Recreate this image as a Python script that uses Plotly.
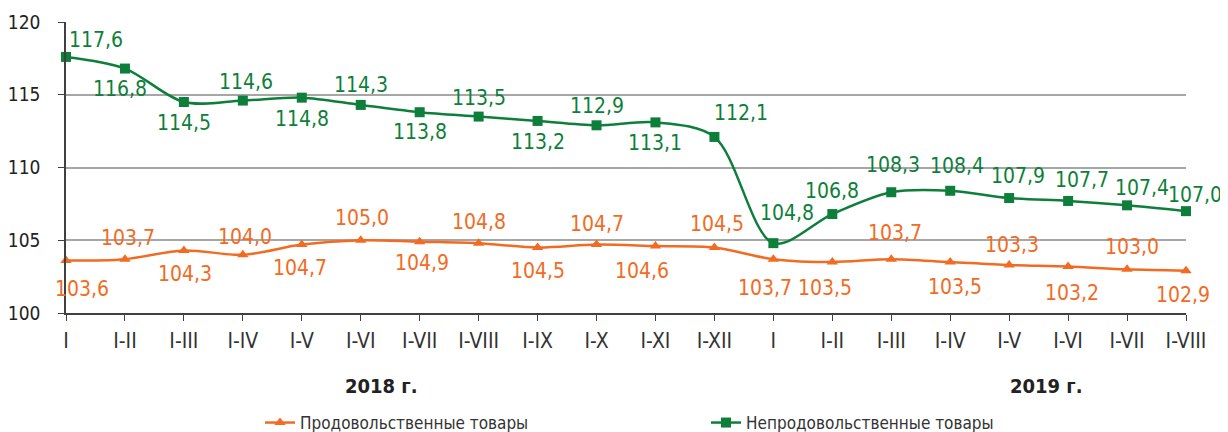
import plotly.graph_objects as go

categories = ["I", "I-II", "I-III", "I-IV", "I-V", "I-VI", "I-VII", "I-VIII", "I-IX", "I-X",
              "I-XI", "I-XII", "I ", "I-II ", "I-III ", "I-IV ", "I-V ", "I-VI ", "I-VII ", "I-VIII "]
food = [103.6, 103.7, 104.3, 104.0, 104.7, 105.0, 104.9, 104.8, 104.5, 104.7,
        104.6, 104.5, 103.7, 103.5, 103.7, 103.5, 103.3, 103.2, 103.0, 102.9]
nonfood = [117.6, 116.8, 114.5, 114.6, 114.8, 114.3, 113.8, 113.5, 113.2, 112.9,
           113.1, 112.1, 104.8, 106.8, 108.3, 108.4, 107.9, 107.7, 107.4, 107.0]
series_names = ["Продовольственные товары", "Непродовольственные товары"]
year_labels = ["2018 г.", "2019 г."]
y_ticks = [100, 105, 110, 115, 120]

# label offsets (pixels) - styling only
food_off = [(16, 28), (3, -21), (1, 24), (2, -18), (-2, 23), (1, -22), (2, 21), (0, -21), (0, 23), (0, -21),
            (-13, 25), (3, -24), (-8, 29), (-7, 26), (4, -26), (5, 25), (3, -20), (4, 27), (5, -22), (-3, 24)]
nonfood_off = [(30, -17), (-5, 20), (0, 21), (3, -19), (0, 21), (0, -20), (0, 20), (0, -19), (0, 21), (0, -19),
               (0, 21), (27, -24), (14, -30), (0, -23), (2, -27), (7, -25), (9, -22), (14, -21), (15, -17), (9, -16)]

ORANGE = "#F26B23"
GREEN = "#0E7F3A"
FONT = "Liberation Sans Narrow, Arial Narrow, DejaVu Sans Condensed, Roboto"

# page body has an 8px margin, so the figure is offset by (8, 8) in the window
OFF = 8
W, H = 1228 - OFF, 432 - OFF
PL, PR, PT, PB = 66, 1186, 22, 313  # plot area in window pixels
ml, mt = PL - OFF, PT - OFF
mr = W - (PR - OFF)
mb = H - (PB - OFF)
pw, ph = PR - PL, PB - PT


def px_to_paper(x, y):
    return (x - PL) / pw, (PB - y) / ph


xs = list(range(len(categories)))

fig = go.Figure()
fig.add_trace(go.Scatter(
    x=xs, y=food, name=series_names[0], mode="lines+markers",
    line=dict(color=ORANGE, width=2.5, shape="spline", smoothing=0.9),
    marker=dict(symbol="triangle-up", size=10, color=ORANGE),
    cliponaxis=False,
))
fig.add_trace(go.Scatter(
    x=xs, y=nonfood, name=series_names[1], mode="lines+markers",
    line=dict(color=GREEN, width=2.5, shape="spline", smoothing=0.9),
    marker=dict(symbol="square", size=10, color=GREEN),
    cliponaxis=False,
))

annotations = []
for vals, offs, col in [(food, food_off, ORANGE), (nonfood, nonfood_off, GREEN)]:
    for i, v in enumerate(vals):
        dx, dy = offs[i]
        annotations.append(dict(
            x=xs[i], y=v, xref="x", yref="y", text=f"{v:.1f}".replace(".", ","),
            showarrow=False, xshift=dx, yshift=-dy,
            font=dict(family=FONT, size=21, color=col),
        ))

for lbl, cx in zip(year_labels, [381, 1046]):
    px, py = px_to_paper(cx, 386)
    annotations.append(dict(x=px, y=py, xref="paper", yref="paper", xanchor="center", yanchor="middle",
                            text=f"<b>{lbl}</b>", showarrow=False,
                            font=dict(family=FONT, size=20, color="#222222")))

lx, ly = px_to_paper(260, 405)

fig.update_layout(
    width=W, height=H,
    margin=dict(l=ml, r=mr, t=mt, b=mb, autoexpand=False),
    paper_bgcolor="white", plot_bgcolor="white",
    font=dict(family=FONT, color="#333333"),
    showlegend=True,
    legend=dict(orientation="h", x=lx, y=ly,
                xanchor="left", yanchor="top", entrywidth=401, entrywidthmode="pixels",
                font=dict(family=FONT, size=17, color="#333333"), bgcolor="rgba(0,0,0,0)"),
    annotations=annotations,
)
fig.update_xaxes(
    range=[0, len(categories) - 1], tickmode="array", tickvals=xs, ticktext=[c.strip() for c in categories],
    showgrid=False, showline=True, linecolor="#404040", linewidth=1.5,
    ticks="outside", ticklen=6, tickcolor="#404040", tickwidth=1.2,
    tickfont=dict(family=FONT, size=21, color="#333333"), ticklabelstandoff=2,
    zeroline=False,
)
fig.update_yaxes(
    range=[100, 120], tickvals=y_ticks, showgrid=True, gridcolor="#A6A6A6", gridwidth=1.5,
    showline=True, linecolor="#404040", linewidth=1.5,
    ticks="outside", ticklen=6, tickcolor="#404040", tickwidth=1.2,
    tickfont=dict(family=FONT, size=19, color="#222222"), ticklabelstandoff=14,
    zeroline=False,
)

fig.write_html("out.html")
